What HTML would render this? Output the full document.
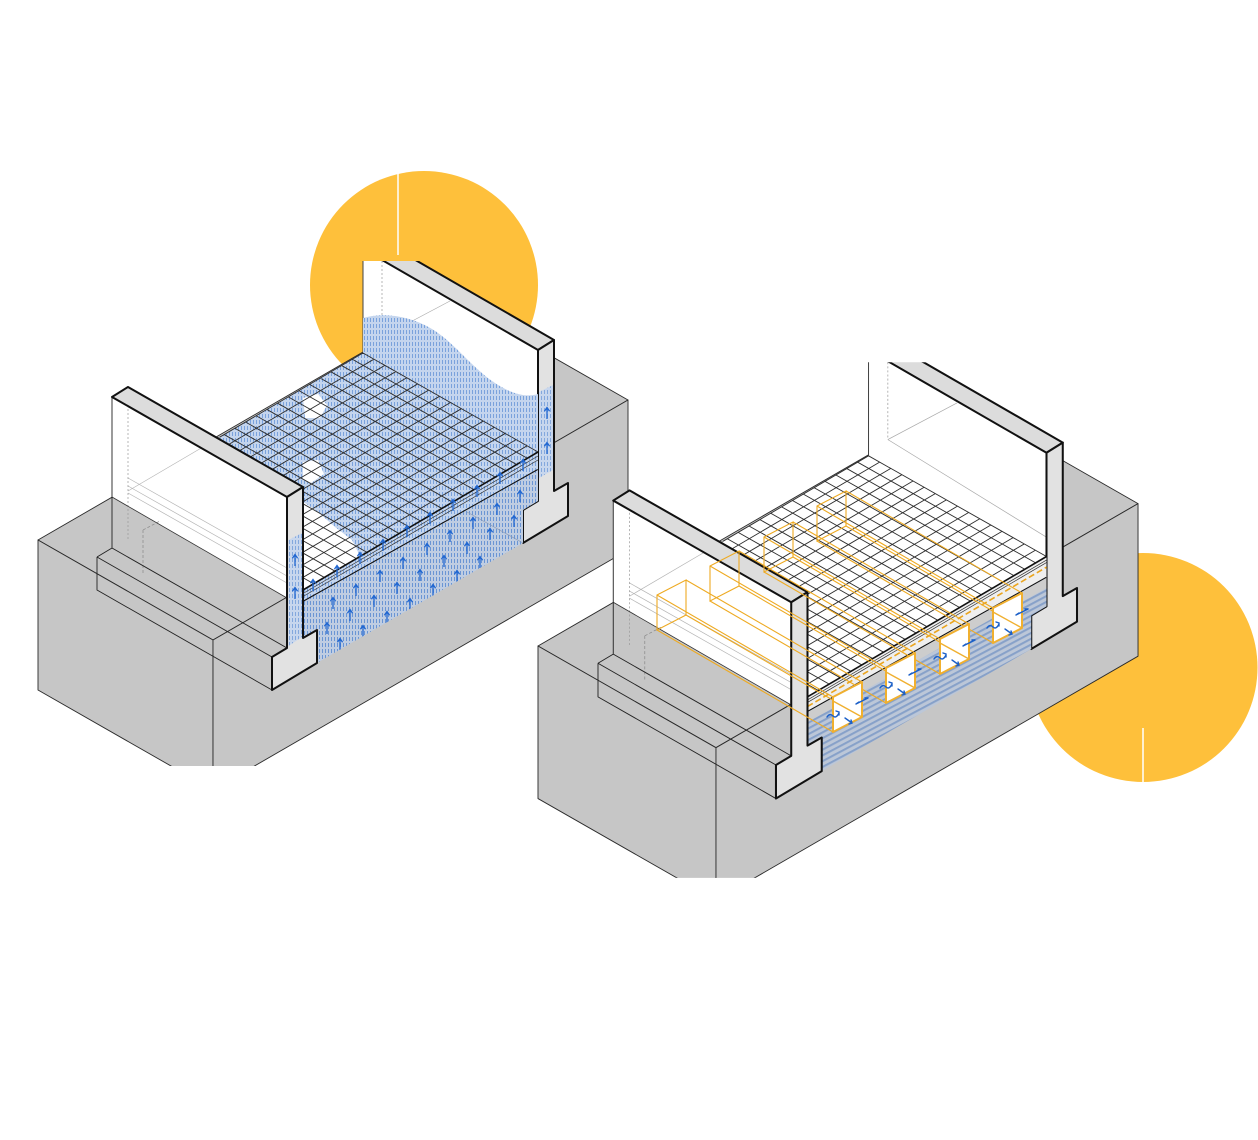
<!DOCTYPE html>
<html><head><meta charset="utf-8"><style>html,body{margin:0;padding:0;background:#fff;}svg{display:block}</style></head>
<body>
<svg width="1258" height="1140" viewBox="0 0 1258 1140" xmlns="http://www.w3.org/2000/svg">
<defs>
<pattern id="rain" width="3" height="6" patternUnits="userSpaceOnUse">
<rect width="3" height="6" fill="#c4d5ee"/>
<rect x="1" y="0" width="1" height="4" fill="#7aa2dc"/>
</pattern>
<pattern id="rain2" width="3" height="6" patternUnits="userSpaceOnUse">
<rect width="3" height="6" fill="#bfcde2"/>
<rect x="1" y="1" width="1" height="4" fill="#6a95d4"/>
</pattern>
<pattern id="hatch" width="5" height="5" patternUnits="userSpaceOnUse" patternTransform="rotate(-28)">
<rect width="5" height="5" fill="#bcc7d8"/>
<rect width="5" height="2" fill="#87a1c9"/>
</pattern>
<clipPath id="clipL"><rect x="0" y="261" width="1258" height="505"/></clipPath>
<clipPath id="clipR"><rect x="0" y="261" width="1000" height="507"/></clipPath>
<clipPath id="secClip"><polygon points="303,602 538,470 538,501 523,510 523,543 317,663 317,630 303,638"/></clipPath>
<path id="ar" d="M0,6V-5M-2.6,-1.8L0,-5.5L2.6,-1.8" fill="none" stroke="#1f66d1" stroke-width="1.3"/>

<g id="box" fill="#c6c6c6" stroke="#2a2a2a" stroke-width="0.9" stroke-linejoin="round">
<polygon points="38,540 213,640 628,400 453,300"/>
<polygon points="38,540 213,640 213,790 38,690"/>
<polygon points="213,640 628,400 628,550 213,790"/>
</g>

<g id="backWall">
<polygon points="363,249 538,350 538,452 363,353" fill="#fff"/>
<line x1="382" y1="261" x2="382" y2="337" stroke="#999" stroke-width="0.7" stroke-dasharray="2,2"/>
<line x1="382" y1="337" x2="450" y2="301" stroke="#aaa" stroke-width="0.7"/>
<line x1="382" y1="337" x2="538" y2="433" stroke="#aaa" stroke-width="0.7"/>
<line x1="363" y1="249" x2="363" y2="353" stroke="#444" stroke-width="1"/>
<polygon points="363,249 379,239 554,340 538,350" fill="#dcdcdc" stroke="#111" stroke-width="2" stroke-linejoin="round"/>
<polygon points="538,350 554,340 554,491 568,483 568,516 523,543 523,510 538,501" fill="#e2e2e2" stroke="#111" stroke-width="2" stroke-linejoin="round"/>
</g>

<path id="gridLines" fill="none" stroke="#2d2d2d" stroke-width="0.9" d="M128,491L303,590M138.68,484.73L313.68,583.73M149.36,478.45L324.36,577.45M160.05,472.18L335.05,571.18M170.73,465.91L345.73,564.91M181.41,459.64L356.41,558.64M192.09,453.36L367.09,552.36M202.77,447.09L377.77,546.09M213.45,440.82L388.45,539.82M224.14,434.55L399.14,533.55M234.82,428.27L409.82,527.27M245.5,422L420.5,521M256.18,415.73L431.18,514.73M266.86,409.45L441.86,508.45M277.55,403.18L452.55,502.18M288.23,396.91L463.23,495.91M298.91,390.64L473.91,489.64M309.59,384.36L484.59,483.36M320.27,378.09L495.27,477.09M330.95,371.82L505.95,470.82M341.64,365.55L516.64,464.55M352.32,359.27L527.32,458.27M363,353L538,452M128,491L363,353M138.94,497.19L373.94,359.19M149.88,503.38L384.88,365.38M160.81,509.56L395.81,371.56M171.75,515.75L406.75,377.75M182.69,521.94L417.69,383.94M193.63,528.13L428.63,390.13M204.56,534.31L439.56,396.31M215.5,540.5L450.5,402.5M226.44,546.69L461.44,408.69M237.38,552.88L472.38,414.88M248.31,559.06L483.31,421.06M259.25,565.25L494.25,427.25M270.19,571.44L505.19,433.44M281.13,577.63L516.13,439.63M292.06,583.81L527.06,445.81M303,590L538,452"/>

<g id="frontWall">
<polygon points="112,397 287,497 287,598 112,497" fill="#fff"/>
<g stroke="#b5b5b5" stroke-width="0.7" fill="none">
<line x1="128" y1="478" x2="287" y2="568"/>
<line x1="128" y1="486" x2="287" y2="576"/>
<line x1="128" y1="493" x2="287" y2="583"/>
<line x1="128" y1="491" x2="220" y2="437"/>
</g>
<line x1="128" y1="397" x2="128" y2="540" stroke="#999" stroke-width="0.7" stroke-dasharray="2,2"/>
<path d="M143,530V575M143,530L160,521" stroke="#888" stroke-width="0.7" stroke-dasharray="3,2" fill="none"/>
<line x1="112" y1="497" x2="287" y2="598" stroke="#333" stroke-width="0.8"/>
<path d="M112,397V548M97,557L112,548M97,557L272,657M97,557V590L272,690M112,548L287,648" stroke="#222" stroke-width="0.9" fill="none"/>
<polygon points="112,397 128,387 303,487 287,497" fill="#dcdcdc" stroke="#111" stroke-width="2" stroke-linejoin="round"/>
<polygon points="287,497 303,487 303,638 317,630 317,663 272,690 272,657 287,648" fill="#e2e2e2" stroke="#111" stroke-width="2" stroke-linejoin="round"/>
</g>
</defs>

<!-- yellow circles -->
<circle cx="424" cy="285" r="114" fill="#FEC03B"/>
<line x1="398" y1="172" x2="398" y2="255" stroke="#fff" stroke-width="1.5"/>
<circle cx="1143" cy="667.5" r="114.5" fill="#FEC03B"/>
<line x1="1143" y1="728" x2="1143" y2="782" stroke="#fff" stroke-width="1.5"/>

<!-- LEFT DIAGRAM -->
<g clip-path="url(#clipL)">
<use href="#box"/>
<use href="#backWall"/>
<polygon points="363,353 538,452 303,590 128,491" fill="#fff"/>
<path d="M128,491L363,353L363,318C385,312 410,316 432,329C455,343 472,368 495,383C510,393 525,398 538,394L538,452L303,590Z" fill="url(#rain)"/>
<polygon points="290,500 305,503 318,512 335,527 352,540 360,556 340,570 320,580 303,590 290,585" fill="#fff"/>
<polygon points="303,398 318,394 327,405 320,418 305,418" fill="#fff"/>
<polygon points="303,462 318,460 324,474 311,483 303,480" fill="#fff"/>
<use href="#gridLines"/>
<!-- slab -->
<polygon points="303,590 538,452 538,470 303,602" fill="url(#rain)"/>
<path d="M303,593.5L538,456M303,596.5L538,460" stroke="#333" stroke-width="0.7" fill="none"/>
<path d="M303,590L538,452" stroke="#111" stroke-width="1.6"/>
<path d="M303,602L538,470" stroke="#111" stroke-width="2.2"/>
<!-- section below slab -->
<polygon points="303,602 538,470 538,501 523,510 523,543 317,663 317,630 303,638" fill="url(#rain2)"/>
<line x1="467" y1="512" x2="523" y2="543" stroke="#8a9ab5" stroke-width="0.7"/>
<g>
<use href="#ar" x="313" y="585"/><use href="#ar" x="337" y="571"/><use href="#ar" x="360" y="558"/><use href="#ar" x="383" y="545"/><use href="#ar" x="407" y="531"/><use href="#ar" x="430" y="518"/><use href="#ar" x="453" y="505"/><use href="#ar" x="477" y="491"/><use href="#ar" x="500" y="478"/><use href="#ar" x="523" y="465"/>
</g>
<g clip-path="url(#secClip)">
<use href="#ar" x="333" y="603"/><use href="#ar" x="356" y="590"/><use href="#ar" x="380" y="576"/><use href="#ar" x="403" y="563"/><use href="#ar" x="427" y="549"/><use href="#ar" x="450" y="536"/><use href="#ar" x="473" y="523"/><use href="#ar" x="497" y="509"/><use href="#ar" x="520" y="496"/>
<use href="#ar" x="327" y="628"/><use href="#ar" x="350" y="615"/><use href="#ar" x="374" y="601"/><use href="#ar" x="397" y="588"/><use href="#ar" x="420" y="575"/><use href="#ar" x="444" y="561"/><use href="#ar" x="467" y="548"/><use href="#ar" x="490" y="534"/><use href="#ar" x="514" y="521"/>
<use href="#ar" x="340" y="644"/><use href="#ar" x="363" y="631"/><use href="#ar" x="387" y="617"/><use href="#ar" x="410" y="604"/><use href="#ar" x="433" y="590"/><use href="#ar" x="457" y="576"/><use href="#ar" x="480" y="562"/>
</g>
<!-- water on back wall cut face -->
<polygon points="539,392 553,385 553,470 539,478" fill="url(#rain)" opacity="0.9"/>
<use href="#ar" x="547" y="413"/><use href="#ar" x="547" y="448"/>
<use href="#frontWall"/>
<polygon points="288.5,540 302,533 302,637 288.5,646" fill="url(#rain)" opacity="0.9"/>
<use href="#ar" x="295" y="560"/><use href="#ar" x="295" y="593"/>
</g>

<!-- RIGHT DIAGRAM -->
<g transform="matrix(1.017 0 0 1.017 499.35 96.82)">
<g clip-path="url(#clipR)">
<use href="#box"/>
<use href="#backWall"/>
<polygon points="363,353 538,452 303,590 128,491" fill="#fff"/>
<use href="#gridLines"/>
<!-- slab -->
<polygon points="303,590 538,452 538,473 303,605" fill="#efefef"/>
<path d="M303,593L538,455.5M303,595.5L538,458" stroke="#333" stroke-width="0.7" fill="none"/>
<path d="M303,599.5L538,462.5" stroke="#eaa520" stroke-width="1.6" stroke-dasharray="6,3"/>
<path d="M303,590L538,452" stroke="#111" stroke-width="1.6"/>
<path d="M303,605L538,473" stroke="#111" stroke-width="2.2"/>
<!-- section -->
<polygon points="303,605 538,473 538,501 523,510 523,543 317,663 317,630 303,638" fill="url(#hatch)"/>
<polygon points="303,605 538,473 538,483 303,615" fill="#cdcdcd"/>
<use href="#frontWall"/>
</g>
</g>

<!-- orange prisms (hidden lines) -->
<g fill="none" stroke="#eeaa22" stroke-width="1.1">
<polygon points="657,595 686,580 686,615 657,630"/>
<path d="M657,595L833,697M686,580L862,682M686,615L862,717M657,630L833,732"/>
<polygon points="710,566 739,551 739,586 710,601"/>
<path d="M710,566L886,668M739,551L915,653M739,586L915,688M710,601L886,703"/>
<polygon points="764,537 793,522 793,557 764,572"/>
<path d="M764,537L940,639M793,522L969,624M793,557L969,659M764,572L940,674"/>
<polygon points="817,506 846,491 846,526 817,541"/>
<path d="M817,506L993,608M846,491L1022,593M846,526L1022,628M817,541L993,643"/>
</g>

<!-- near-end drainage boxes -->
<g stroke-linejoin="round">
<polygon points="833,697 862,682 862,717 833,732" fill="#fff" stroke="#f0b030" stroke-width="2"/>
<line x1="833" y1="701" x2="862" y2="717" stroke="#f0b030" stroke-width="1.4"/>
<polygon points="886,668 915,653 915,688 886,703" fill="#fff" stroke="#f0b030" stroke-width="2"/>
<line x1="886" y1="672" x2="915" y2="688" stroke="#f0b030" stroke-width="1.4"/>
<polygon points="940,639 969,624 969,659 940,674" fill="#fff" stroke="#f0b030" stroke-width="2"/>
<line x1="940" y1="643" x2="969" y2="659" stroke="#f0b030" stroke-width="1.4"/>
<polygon points="993,608 1022,593 1022,628 993,643" fill="#fff" stroke="#f0b030" stroke-width="2"/>
<line x1="993" y1="612" x2="1022" y2="628" stroke="#f0b030" stroke-width="1.4"/>
</g>
<g fill="none" stroke="#1a5fc8" stroke-width="1.4" stroke-linecap="round">
<path d="M827,717c2,-3 4,-3 6,-1s4,1 6,-3M836,711l3,1l0,3"/>
<path d="M845,718l7,5M849,724l3,-1l-1,-3"/>
<path d="M856,704l12,-6M856,704l3,-2M868,698l-3,0"/>
<path d="M880,688c2,-3 4,-3 6,-1s4,1 6,-3M889,682l3,1l0,3"/>
<path d="M898,689l7,5M902,695l3,-1l-1,-3"/>
<path d="M909,675l12,-6M909,675l3,-2M921,669l-3,0"/>
<path d="M934,659c2,-3 4,-3 6,-1s4,1 6,-3M943,653l3,1l0,3"/>
<path d="M952,660l7,5M956,666l3,-1l-1,-3"/>
<path d="M963,646l12,-6M963,646l3,-2M975,640l-3,0"/>
<path d="M987,628c2,-3 4,-3 6,-1s4,1 6,-3M996,622l3,1l0,3"/>
<path d="M1005,629l7,5M1009,635l3,-1l-1,-3"/>
<path d="M1016,615l12,-6M1016,615l3,-2M1028,609l-3,0"/>
</g>
</svg>
</body></html>
